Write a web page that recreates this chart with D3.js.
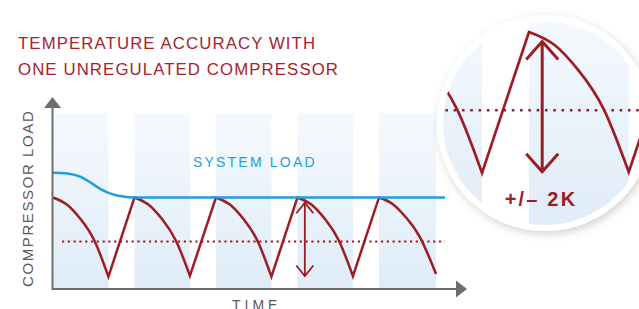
<!DOCTYPE html>
<html>
<head>
<meta charset="utf-8">
<script src="https://cdn.jsdelivr.net/npm/d3@7"></script>
<style>
  html, body { margin: 0; padding: 0; background: #fff; }
  svg { display: block; font-family: "Liberation Sans", Arial, sans-serif; }
</style>
</head>
<body>
<div id="chart"></div>
<script>
// time runs in arbitrary units, one compressor cycle = 10
const bandStarts = [0, 10, 20, 30, 40];
const bandEnds = [6.8, 16.8, 26.8, 36.8, 47.0];

// system load (blue), [time, load]
const systemLoad = [
  [0, 66], [1.5, 65.8], [2.5, 65], [3.5, 63.5], [4.5, 60.8], [5.7, 57.2],
  [6.6, 55], [7.6, 53.4], [8.6, 52.5], [9.7, 52], [48.1, 52]
];

// compressor load (red): each cycle falls along an arc, then rises straight
const compressorFalls = [
  [[0, 52], [1.7, 48], [3.4, 39.6], [5.1, 27.3], [6.8, 7]],
  [[10, 52], [11.7, 48], [13.4, 39.6], [15.1, 27.3], [16.8, 7.5]],
  [[20, 52], [21.7, 48], [23.4, 39.6], [25.1, 27.3], [26.8, 7]],
  [[30, 52], [31.7, 48], [33.4, 39.6], [35.1, 27.3], [36.8, 7.3]],
  [[40, 52], [41.7, 48.2], [43.4, 40.2], [45.1, 28.8], [47.0, 8.5]]
];

const setPoint = 27;
const setPointSpan = [1.1, 48.1];
const swing = { t: 30.9, hi: 49, lo: 7.4 };

const titleLines = ["TEMPERATURE ACCURACY WITH", "ONE UNREGULATED COMPRESSOR"];
const yLabel = "COMPRESSOR LOAD";
const xLabel = "TIME";
const systemLabel = "SYSTEM LOAD";
const zoomLabel = "+/\u2013 2K";

const width = 639, height = 309;
const red = "#9e1c24", blue = "#1aa0dc", grey = "#6e6e6e";

var x = d3.scaleLinear().domain([0, 50]).range([53, 460.5]);
var y = d3.scaleLinear().domain([0, 100]).range([289, 113]);

// magnified view around the fourth peak
var zoom = { cx: 545, cy: 123, r: 108, inner: 102, kx: 1.8, ky: 1.78, px: 529, py: 32 };
var xZ = x.copy().range(x.range().map(function (p) {
  return zoom.px + (p - x(30)) * zoom.kx;
}));
var yZ = y.copy().range(y.range().map(function (p) {
  return zoom.py + (p - y(52)) * zoom.ky;
}));

let svg = d3
  .select("#chart")
  .append("svg")
  .attr("width", width)
  .attr("height", height);

let defs = svg.append("defs");
let grad = defs
  .append("linearGradient")
  .attr("id", "bandFill")
  .attr("x1", 0).attr("y1", 0).attr("x2", 0).attr("y2", 1);
grad.append("stop").attr("offset", "0%").attr("stop-color", "#f5f9fd");
grad.append("stop").attr("offset", "100%").attr("stop-color", "#dfecf7");

let shadow = defs
  .append("filter")
  .attr("id", "shadow")
  .attr("x", "-20%").attr("y", "-20%")
  .attr("width", "140%").attr("height", "140%");
shadow
  .append("feDropShadow")
  .attr("dx", 2).attr("dy", 3)
  .attr("stdDeviation", 4)
  .attr("flood-color", "#000")
  .attr("flood-opacity", 0.18);

defs
  .append("clipPath")
  .attr("id", "zoomClip")
  .append("circle")
  .attr("cx", zoom.cx).attr("cy", zoom.cy).attr("r", zoom.inner);

function redPath(xs, ys) {
  let line = d3
    .line()
    .x(function (d) { return xs(d[0]); })
    .y(function (d) { return ys(d[1]); })
    .curve(d3.curveNatural);
  return compressorFalls
    .map(function (fall, i) {
      let s = line(fall);
      return i > 0 ? "L" + s.slice(1) : s;
    })
    .join("");
}

function drawPanel(g, xs, ys, top, bottom, o) {
  g.selectAll(".band")
    .data(bandStarts)
    .enter()
    .append("rect")
    .attr("class", "band")
    .attr("x", function (d) { return xs(d); })
    .attr("width", function (d, i) { return xs(bandEnds[i]) - xs(d); })
    .attr("y", top)
    .attr("height", bottom - top)
    .attr("fill", "url(#bandFill)");

  g.append("line")
    .attr("x1", xs(setPointSpan[0]))
    .attr("x2", xs(setPointSpan[1]))
    .attr("y1", ys(setPoint))
    .attr("y2", ys(setPoint))
    .attr("stroke", red)
    .attr("stroke-width", o.dot)
    .attr("stroke-dasharray", o.dash);

  g.append("path")
    .attr("d", redPath(xs, ys))
    .attr("fill", "none")
    .attr("stroke", red)
    .attr("stroke-width", o.line)
    .attr("stroke-linejoin", "miter");

  // +/- swing arrow
  let ax = xs(swing.t), a1 = ys(swing.hi), a2 = ys(swing.lo);
  g.append("path")
    .attr("d",
      "M" + ax + "," + a1 + "V" + a2 +
      "M" + (ax - o.hw) + "," + (a1 + o.hh) + "L" + ax + "," + a1 + "L" + (ax + o.hw) + "," + (a1 + o.hh) +
      "M" + (ax - o.hw) + "," + (a2 - o.hh) + "L" + ax + "," + a2 + "L" + (ax + o.hw) + "," + (a2 - o.hh))
    .attr("fill", "none")
    .attr("stroke", red)
    .attr("stroke-width", o.arrow);
}

// main chart
let main = svg.append("g");
drawPanel(main, x, y, y(100), y(0), {
  dot: 2.2, dash: "2.2 3.6", line: 2.5, arrow: 1.8, hw: 8.5, hh: 10.5
});

main.append("path")
  .datum(systemLoad)
  .attr("fill", "none")
  .attr("stroke", blue)
  .attr("stroke-width", 2.5)
  .attr("d", d3.line()
    .x(function (d) { return x(d[0]); })
    .y(function (d) { return y(d[1]); })
    .curve(d3.curveMonotoneX));

main.append("text")
  .attr("x", 193)
  .attr("y", 167)
  .attr("fill", blue)
  .style("font-size", "14px")
  .style("letter-spacing", "2.2px")
  .text(systemLabel);

// axes
main.append("line")
  .attr("x1", 52.5).attr("x2", 52.5)
  .attr("y1", 106).attr("y2", 290)
  .attr("stroke", grey).attr("stroke-width", 2);
main.append("path")
  .attr("d", "M44,108L61,108L52.5,97Z")
  .attr("fill", grey);
main.append("line")
  .attr("x1", 52).attr("x2", 458)
  .attr("y1", 289).attr("y2", 289)
  .attr("stroke", grey).attr("stroke-width", 2);
main.append("path")
  .attr("d", "M456,280.5L456,297.5L467,289Z")
  .attr("fill", grey);

main.append("text")
  .attr("transform", "translate(33,287) rotate(-90)")
  .attr("fill", "#5a5a5a")
  .style("font-size", "15px")
  .style("letter-spacing", "1.6px")
  .text(yLabel);

main.append("text")
  .attr("x", 232)
  .attr("y", 309.5)
  .attr("fill", "#5a5a5a")
  .style("font-size", "14px")
  .style("letter-spacing", "4px")
  .text(xLabel);

svg.selectAll(".title")
  .data(titleLines)
  .enter()
  .append("text")
  .attr("class", "title")
  .attr("x", 18)
  .attr("y", function (d, i) { return 49 + i * 26; })
  .attr("fill", "#a6222c")
  .style("font-size", "16.8px")
  .style("letter-spacing", "1.1px")
  .text(function (d) { return d; });

// magnifier
svg.append("circle")
  .attr("cx", zoom.cx).attr("cy", zoom.cy).attr("r", zoom.r)
  .attr("fill", "#fff")
  .attr("filter", "url(#shadow)");

let lens = svg.append("g").attr("clip-path", "url(#zoomClip)");
drawPanel(lens, xZ, yZ, zoom.cy - zoom.inner, zoom.cy + zoom.inner, {
  dot: 2.6, dash: "2.6 5.7", line: 2.7, arrow: 3, hw: 16, hh: 18
});

svg.append("text")
  .attr("x", 541)
  .attr("y", 206)
  .attr("text-anchor", "middle")
  .attr("fill", red)
  .style("font-size", "20px")
  .style("font-weight", "bold")
  .style("letter-spacing", "2.2px")
  .text(zoomLabel);
</script>
</body>
</html>
